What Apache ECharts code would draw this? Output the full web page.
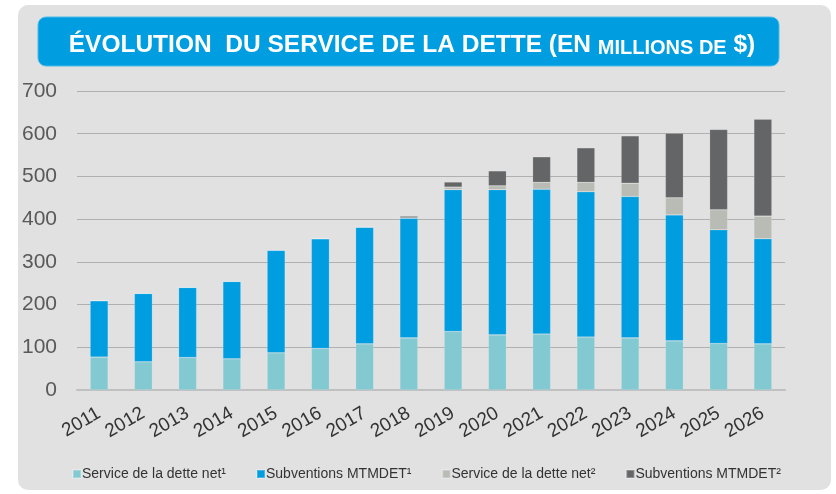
<!DOCTYPE html>
<html>
<head>
<meta charset="utf-8">
<script src="https://cdn.jsdelivr.net/npm/echarts@6/dist/echarts.min.js"></script>
<style>
html, body { margin: 0; padding: 0; background: #fff; }
#chart { width: 836px; height: 494px; }
</style>
</head>
<body>
<div id="chart"></div>
<script>
var years = ['2011', '2012', '2013', '2014', '2015', '2016', '2017', '2018',
	'2019', '2020', '2021', '2022', '2023', '2024', '2025', '2026'];
var serviceNet1 = [77, 66, 76, 73, 87, 97, 108, 122, 137, 129, 131, 124, 122, 115, 109, 108];
var subventions1 = [132, 160, 164, 181, 240, 257, 273, 280, 332, 340, 339, 340, 331, 295, 266, 246];
var serviceNet2 = [0, 0, 0, 0, 0, 0, 0, 1, 6, 9, 16, 22, 31, 40, 47, 53];
var subventions2 = [0, 0, 0, 0, 0, 0, 0, 4, 12, 35, 60, 81, 111, 151, 188, 227];
var yTicks = [0, 100, 200, 300, 400, 500, 600, 700];

var fontSans = '"Liberation Sans", Arial, sans-serif';

var chart = echarts.init(document.getElementById('chart'));

function barSeries(name, data, color) {
	return {
		name: name,
		type: 'bar',
		stack: 'dette',
		barWidth: 18,
		data: data,
		itemStyle: { color: color, borderColor: 'rgba(255,255,255,0.25)', borderWidth: 0.6 }
	};
}

var option = {
	backgroundColor: '#ffffff',
	animation: false,
	graphic: [
		{
			type: 'rect', z: -10,
			shape: { x: 18, y: 5, width: 813, height: 485, r: 10 },
			style: { fill: '#e1e1e1' }
		},
		{
			type: 'rect', z: -5,
			shape: { x: 38, y: 17, width: 741, height: 49, r: 8 },
			style: { fill: '#009ee0', stroke: '#4cbbea', lineWidth: 1 }
		}
	],
	title: {
		text: '{a|ÉVOLUTION  DU SERVICE DE LA DETTE (EN }{b|MILLIONS DE}{a| $)}',
		left: 407, top: 28, textAlign: 'center',
		textStyle: {
			rich: {
				a: { fontFamily: fontSans, fontWeight: 'bold', fontSize: 24.5, color: '#ffffff' },
				b: { fontFamily: fontSans, fontWeight: 'bold', fontSize: 20, color: '#ffffff', verticalAlign: 'bottom' }
			}
		}
	},
	legend: {
		left: 67, top: 462,
		itemWidth: 8, itemHeight: 8, itemGap: 30,
		icon: 'rect',
		textStyle: { fontFamily: fontSans, fontSize: 14, color: '#333333', padding: [0, 0, 0, -4] },
		data: ['Service de la dette net¹', 'Subventions MTMDET¹', 'Service de la dette net²', 'Subventions MTMDET²']
	},
	grid: { left: 77, right: 51, top: 91, bottom: 104 },
	xAxis: {
		type: 'category',
		data: years,
		axisLine: { lineStyle: { color: '#c0c0c0', width: 2 } },
		axisTick: { show: false },
		axisLabel: {
			rotate: 30, margin: 22, interval: 0,
			fontFamily: fontSans, fontSize: 19, color: '#333333'
		}
	},
	yAxis: {
		type: 'value',
		min: yTicks[0], max: yTicks[yTicks.length - 1], interval: 100,
		axisLine: { show: false },
		axisTick: { show: false },
		splitLine: { lineStyle: { color: '#b0b0b0', width: 1 } },
		axisLabel: { margin: 20, fontFamily: fontSans, fontSize: 21, color: '#595959' }
	},
	series: [
		barSeries('Service de la dette net¹', serviceNet1, '#82c9d1'),
		barSeries('Subventions MTMDET¹', subventions1, '#009ee0'),
		barSeries('Service de la dette net²', serviceNet2, '#b8bcb4'),
		barSeries('Subventions MTMDET²', subventions2, '#646567')
	]
};

chart.setOption(option);
</script>
</body>
</html>
